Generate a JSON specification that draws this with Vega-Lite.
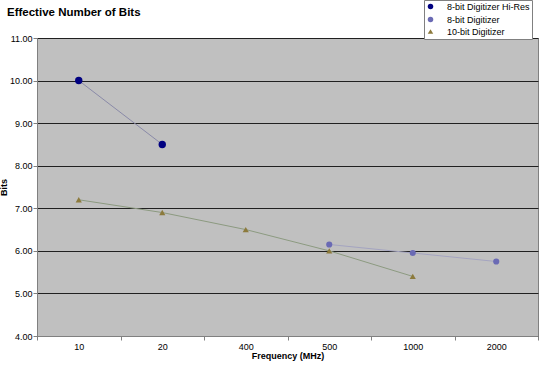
{
  "$schema": "https://vega.github.io/schema/vega-lite/v6.json",
  "autosize": "none",
  "width": 501,
  "height": 298,
  "padding": {"left": 37, "top": 38, "right": 2, "bottom": 30},
  "background": "white",
  "config": {
    "font": "Liberation Sans",
    "view": {"fill": "#c0c0c0", "stroke": "#808080", "strokeWidth": 1}
  },
  "title": {
    "text": "Effective Number of Bits",
    "anchor": "start",
    "frame": "group",
    "fontSize": 11.5,
    "fontWeight": "bold",
    "color": "black",
    "dx": -30,
    "dy": 33,
    "offset": 14
  },
  "data": {
    "values": [
      {"freq": "10", "bits": 10.0, "series": "8-bit Digitizer Hi-Res"},
      {"freq": "20", "bits": 8.5, "series": "8-bit Digitizer Hi-Res"},
      {"freq": "500", "bits": 6.15, "series": "8-bit Digitizer"},
      {"freq": "1000", "bits": 5.95, "series": "8-bit Digitizer"},
      {"freq": "2000", "bits": 5.75, "series": "8-bit Digitizer"},
      {"freq": "10", "bits": 7.2, "series": "10-bit Digitizer"},
      {"freq": "20", "bits": 6.9, "series": "10-bit Digitizer"},
      {"freq": "400", "bits": 6.5, "series": "10-bit Digitizer"},
      {"freq": "500", "bits": 6.0, "series": "10-bit Digitizer"},
      {"freq": "1000", "bits": 5.4, "series": "10-bit Digitizer"}
    ]
  },
  "encoding": {
    "x": {
      "field": "freq",
      "type": "nominal",
      "sort": ["10", "20", "400", "500", "1000", "2000"],
      "scale": {"type": "band", "domain": ["10", "20", "400", "500", "1000", "2000"], "paddingInner": 0, "paddingOuter": 0},
      "bandPosition": 0.5,
      "axis": {
        "title": "Frequency (MHz)",
        "titleFontSize": 9,
        "titleFontWeight": "bold",
        "titleColor": "black",
        "titlePadding": 0,
        "labelAngle": 0,
        "labelFontSize": 9,
        "labelColor": "black",
        "labelPadding": 2,
        "tickBand": "extent",
        "tickColor": "#808080",
        "tickSize": 4,
        "domainColor": "#808080",
        "grid": false
      }
    },
    "y": {
      "field": "bits",
      "type": "quantitative",
      "scale": {"domain": [4, 11], "nice": false, "zero": false},
      "axis": {
        "title": "Bits",
        "titleFontSize": 9,
        "titleFontWeight": "bold",
        "titleColor": "black",
        "titlePadding": 1,
        "values": [4, 5, 6, 7, 8, 9, 10, 11],
        "format": ".2f",
        "labelFontSize": 9,
        "labelColor": "black",
        "labelPadding": 1,
        "tickColor": "#808080",
        "tickSize": 4,
        "domainColor": "#808080",
        "grid": true,
        "gridColor": "#202020",
        "gridWidth": 1,
        "gridOpacity": 1
      }
    }
  },
  "layer": [
    {
      "transform": [{"filter": "datum.series === '8-bit Digitizer Hi-Res'"}],
      "mark": {"type": "line", "strokeWidth": 1, "color": "#8a8aa8"}
    },
    {
      "transform": [{"filter": "datum.series === '8-bit Digitizer'"}],
      "mark": {"type": "line", "strokeWidth": 1, "color": "#a4a4c0"}
    },
    {
      "transform": [{"filter": "datum.series === '10-bit Digitizer'"}],
      "mark": {"type": "line", "strokeWidth": 1, "color": "#8c9a80"}
    },
    {
      "transform": [{"filter": "datum.series === '8-bit Digitizer Hi-Res'"}],
      "mark": {"type": "point", "filled": true, "opacity": 1, "size": 55},
      "encoding": {
        "fill": {"field": "series", "type": "nominal"},
        "shape": {"field": "series", "type": "nominal"}
      }
    },
    {
      "transform": [{"filter": "datum.series !== '8-bit Digitizer Hi-Res'"}],
      "mark": {"type": "point", "filled": true, "opacity": 1, "size": 38},
      "encoding": {
        "fill": {
          "field": "series",
          "type": "nominal",
          "scale": {"domain": ["8-bit Digitizer Hi-Res", "8-bit Digitizer", "10-bit Digitizer"], "range": ["#000080", "#6a6ab4", "#8c7a3c"]},
          "legend": {
            "title": null,
            "orient": "none",
            "legendX": 387,
            "legendY": -38,
            "fillColor": "white",
            "strokeColor": "#808080",
            "padding": 2,
            "labelFontSize": 9,
            "labelColor": "black",
            "symbolSize": 30,
            "rowPadding": 0,
            "labelOffset": 12
          }
        },
        "shape": {
          "field": "series",
          "type": "nominal",
          "scale": {"domain": ["8-bit Digitizer Hi-Res", "8-bit Digitizer", "10-bit Digitizer"], "range": ["circle", "circle", "triangle-up"]},
          "legend": {
            "title": null,
            "orient": "none",
            "legendX": 387,
            "legendY": -38,
            "fillColor": "white",
            "strokeColor": "#808080",
            "padding": 2,
            "labelFontSize": 9,
            "labelColor": "black",
            "symbolSize": 30,
            "rowPadding": 0,
            "labelOffset": 12
          }
        }
      }
    }
  ]
}
